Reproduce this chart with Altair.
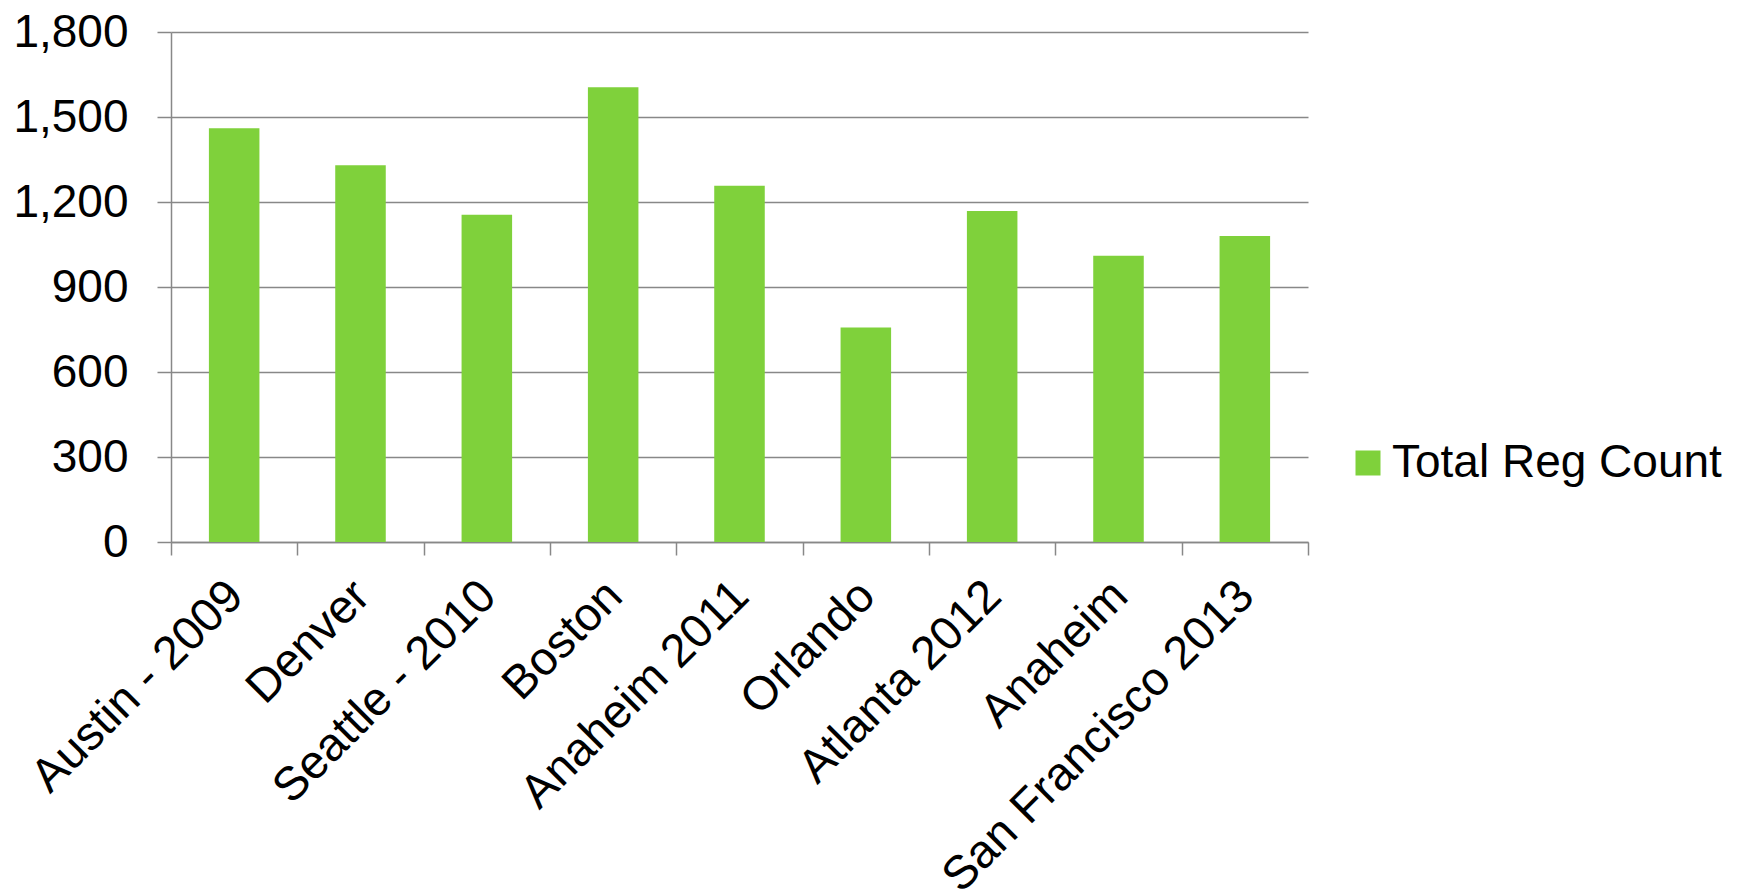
import altair as alt
import pandas as pd

categories = ["Austin - 2009", "Denver", "Seattle - 2010", "Boston", "Anaheim 2011",
              "Orlando", "Atlanta 2012", "Anaheim", "San Francisco 2013"]
values = [1460, 1330, 1155, 1605, 1257, 757, 1168, 1010, 1080]
series = ["Total Reg Count"] * len(categories)
y_ticks = [0, 300, 600, 900, 1200, 1500, 1800]

df = pd.DataFrame({"venue": categories, "count": values, "series": series})

FONT = "Liberation Sans"
GRID = "#888888"

chart = alt.Chart(df).mark_bar(width=alt.RelativeBandSize(0.4)).encode(
    x=alt.X("venue:N", sort=None, title=None,
            scale=alt.Scale(paddingInner=0, paddingOuter=0),
            axis=alt.Axis(labelAngle=-45, labelAlign="right", labelBaseline="top",
                          labelFontSize=47, labelFont=FONT, labelColor="black",
                          labelPadding=17, labelOffset=-15, tickBand="extent",
                          labelLimit=0,
                          tickSize=13, tickColor=GRID, domainColor=GRID,
                          domainWidth=1.5, tickWidth=1.5, grid=False)),
    y=alt.Y("count:Q", title=None,
            scale=alt.Scale(domain=[0, 1800], nice=False),
            axis=alt.Axis(values=y_ticks, format=",.0f", labelFontSize=46, labelFont=FONT,
                          labelColor="black", labelPadding=29, tickSize=14,
                          tickColor=GRID, domainColor=GRID, gridColor=GRID,
                          domainWidth=1.5, tickWidth=1.5, gridWidth=1.5,
                          labelBaseline="middle", labelLimit=0)),
    color=alt.Color("series:N", title=None,
                    scale=alt.Scale(range=["#7FD13B"]),
                    legend=alt.Legend(orient="none", legendX=1174, legendY=408,
                                      symbolType="square", symbolSize=625,
                                      symbolStrokeWidth=0, labelFontSize=46,
                                      labelFont=FONT, labelColor="black",
                                      labelOffset=1, padding=0, labelLimit=0)),
).properties(
    width=1137, height=510,
    background="white",
    autosize=alt.AutoSizeParams(type="none"),
    padding={"left": 171, "top": 32, "right": 430, "bottom": 354},
).configure_view(stroke=None)

chart.save("out.html", embed_options={"renderer": "svg", "actions": False})
